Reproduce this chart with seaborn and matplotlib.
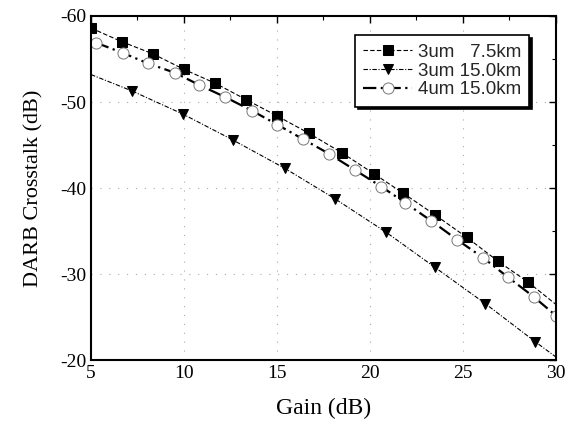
import matplotlib
matplotlib.use("Agg")
import matplotlib.pyplot as plt
import seaborn as sns
import pandas as pd
from matplotlib.ticker import MultipleLocator

# Data
sq_gain = [5.0, 6.67, 8.33, 10.0, 11.67, 13.33, 15.0, 16.7, 18.5, 20.2, 21.8, 23.5, 25.2, 26.9, 28.5, 30.0]
sq_xt = [-58.6, -57.0, -55.6, -53.8, -52.2, -50.3, -48.4, -46.4, -44.1, -41.7, -39.4, -36.9, -34.3, -31.5, -29.1, -26.5]

tri_gain = [5.0, 7.2, 9.95, 12.63, 15.43, 18.1, 20.86, 23.5, 26.2, 28.87, 30.0]
tri_xt = [-53.2, -51.3, -48.6, -45.6, -42.3, -38.8, -34.9, -30.8, -26.6, -22.2, -20.4]

cir_gain = [5.27, 6.72, 8.06, 9.52, 10.81, 12.2, 13.66, 15.0, 16.4, 17.8, 19.2, 20.6, 21.9, 23.3, 24.7, 26.1, 27.4, 28.8, 30.0]
cir_xt = [-56.9, -55.7, -54.5, -53.4, -52.0, -50.6, -49.0, -47.4, -45.7, -44.0, -42.1, -40.2, -38.3, -36.2, -34.0, -31.9, -29.7, -27.4, -25.2]

labels = ["3um   7.5km", "3um 15.0km", "4um 15.0km"]
x_ticks = [5, 10, 15, 20, 25, 30]
y_ticks = [-60, -50, -40, -30, -20]

sns.set_theme(style="white")
plt.rcParams["font.family"] = ["Liberation Serif", "DejaVu Serif"]
plt.rcParams["axes.unicode_minus"] = False

fig = plt.figure(figsize=(5.77, 4.23), dpi=100)
ax = fig.add_axes([0.1577, 0.1478, 0.8059, 0.8144])

df_sq = pd.DataFrame({"g": sq_gain, "x": sq_xt})
df_tri = pd.DataFrame({"g": tri_gain, "x": tri_xt})
df_cir = pd.DataFrame({"g": cir_gain, "x": cir_xt})

sns.lineplot(data=df_sq, x="g", y="x", ax=ax, color="black", lw=0.8,
             linestyle=(0, (4, 2)), marker="s", markersize=7,
             markevery=list(range(len(sq_gain) - 1)), label=labels[0],
             markeredgecolor="black", markerfacecolor="black")
sns.lineplot(data=df_tri, x="g", y="x", ax=ax, color="black", lw=0.8,
             linestyle=(0, (4, 1.5, 1, 1.5)), marker="v", markersize=7,
             markevery=list(range(1, len(tri_gain) - 1)), label=labels[1],
             markeredgecolor="black", markerfacecolor="black")
sns.lineplot(data=df_cir, x="g", y="x", ax=ax, color="black", lw=1.6,
             linestyle=(0, (6, 2, 1, 2)), marker="o", markersize=8,
             label=labels[2], markeredgecolor="#777777", markeredgewidth=0.7,
             markerfacecolor="white")

ax.set_xlim(5, 30)
ax.set_ylim(-20, -60)
ax.set_xticks(x_ticks)
ax.set_yticks(y_ticks)
ax.xaxis.set_minor_locator(MultipleLocator(2.5))
ax.yaxis.set_minor_locator(MultipleLocator(5))
ax.tick_params(which="both", direction="in", top=True, right=True,
               colors="black", labelsize=14)
ax.tick_params(which="major", length=5, width=1)
ax.tick_params(which="minor", length=3, width=0.8)
ax.grid(True, which="major", color="#aaaaaa", linestyle=(0, (1, 7)), lw=0.8)

for s in ax.spines.values():
    s.set_color("black")
    s.set_linewidth(1.5)

ax.set_xlabel("Gain (dB)", fontsize=17, color="black", labelpad=11)
ax.set_ylabel("DARB Crosstalk (dB)", fontsize=16, color="black", labelpad=12)

leg = ax.legend(loc="upper right", bbox_to_anchor=(0.955, 0.96),
                prop={"family": "Liberation Sans", "size": 13.5},
                frameon=True, fancybox=False,
                shadow={"color": "black", "alpha": 1},
                handlelength=2.6, handletextpad=0.3, borderpad=0.45,
                labelspacing=0.08, borderaxespad=0.3)
leg.get_frame().set_edgecolor("black")
leg.get_frame().set_linewidth(1.2)
leg.get_frame().set_alpha(1)

fig.savefig("out.png", dpi=100)
